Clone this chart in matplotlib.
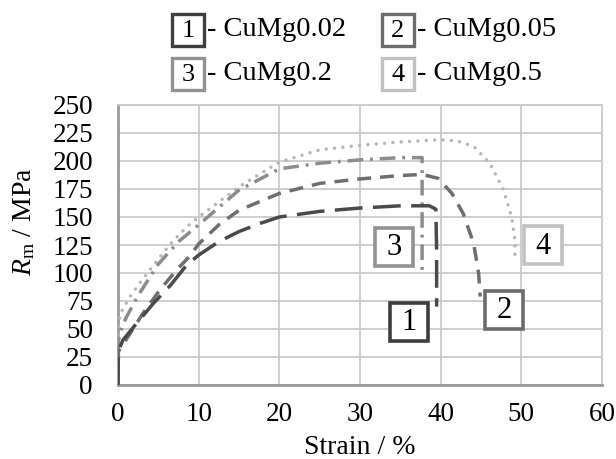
import matplotlib
matplotlib.use('Agg')
import matplotlib.pyplot as plt
from matplotlib.patches import Rectangle

plt.rcParams['font.family'] = ['Liberation Serif', 'DejaVu Serif']
plt.rcParams['mathtext.fontset'] = 'custom'
plt.rcParams['mathtext.rm'] = 'Liberation Serif'
plt.rcParams['mathtext.it'] = 'Liberation Serif:italic'

# curve data (strain in %, Rm in MPa)
strain_1 = [0, 0.05, 0.6, 2.3, 4.4, 6.5, 8.5, 10, 12.5, 15, 17.5, 20, 25, 30, 35, 38.6, 39.4, 39.5, 39.5]
stress_1 = [0, 30, 40, 55, 73, 89, 107, 116, 128, 137, 144, 150, 155, 158, 160, 160, 157, 120, 70]

strain_2 = [0, 0.05, 1.5, 3.1, 5.2, 7.3, 8.9, 10, 12.5, 15, 20, 25, 30, 35, 37.7, 39.7, 41.4, 42.8, 44.1, 44.7, 44.9]
stress_2 = [0, 30, 46, 64, 85, 103, 115, 126, 143, 156, 171, 180, 184, 187, 188, 184.5, 171, 153, 126, 100, 79]

strain_3 = [0, 0.05, 0.5, 1, 2.5, 5, 7.5, 10, 15, 20, 25, 30, 35, 37.7, 37.7]
stress_3 = [0, 40, 52, 60, 80, 108, 128, 143, 174, 193, 198, 201, 203, 203, 97]

strain_4 = [0, 0.02, 0.3, 1.5, 2.7, 4.4, 6.5, 8.5, 10, 15, 20, 25, 30, 35, 40, 42, 44.1, 46.1, 47.8, 48.8, 49.2, 49.2]
stress_4 = [0, 52, 64, 79, 91, 107, 126, 141, 150, 177, 199, 210, 214, 217, 219, 218, 213, 198, 174, 150, 130, 110]

series_numbers = ['1', '2', '3', '4']
series_names = ['CuMg0.02', 'CuMg0.05', 'CuMg0.2', 'CuMg0.5']

x_ticks = [0, 10, 20, 30, 40, 50, 60]
y_ticks = [0, 25, 50, 75, 100, 125, 150, 175, 200, 225, 250]

# styles
line_colors = ['#4a4a4a', '#6e6e6e', '#8c8c8c', '#b6b6b6']
box_colors = ['#3e3e3e', '#6c6c6c', '#929292', '#c2c2c2']
line_dashes = [(8, 3), (4, 2.6), (4.5, 2, 0.8, 2), (0.01, 2.4)]
line_caps = ['butt', 'butt', 'butt', 'round']

W, H = 616, 459
fig = plt.figure(figsize=(W / 100, H / 100), dpi=100)
ax = fig.add_axes([118 / W, 1 - 385 / H, (602 - 118) / W, (385 - 105) / H])

curves = [(strain_1, stress_1), (strain_2, stress_2), (strain_3, stress_3), (strain_4, stress_4)]
for i, (sx, sy) in enumerate(curves):
    ln, = ax.plot(sx, sy, color=line_colors[i], lw=2.5, zorder=3 + (3 - i) * 0.1)
    ln.set_dashes(line_dashes[i])
    ln.set_dash_capstyle(line_caps[i])

ax.set_xlim(0, 60)
ax.set_ylim(0, 250)
ax.set_xticks(x_ticks)
ax.set_yticks(y_ticks)
ax.grid(True, color='#cacaca', lw=1.3)
ax.set_axisbelow(True)
for s in ['top', 'right']:
    ax.spines[s].set_color('#cacaca')
    ax.spines[s].set_linewidth(1.3)
for s in ['left', 'bottom']:
    ax.spines[s].set_color('#9a9a9a')
    ax.spines[s].set_linewidth(2.0)
ax.tick_params(axis='both', length=0, labelsize=19.5)
ax.tick_params(axis='x', pad=12)
ax.tick_params(axis='y', pad=18)

fig.text(360 / W, 1 - 447 / H, 'Strain / %', fontsize=20, ha='center', va='center')
fig.text(24 / W, 1 - 222 / H, r'$R_\mathrm{m}$ / MPa', fontsize=20, rotation=90,
         ha='center', va='center')


def number_box(cx, cy, size, num, color, fontsize, lw):
    # cx, cy in figure fraction
    w = size / W
    h = size / H
    fig.add_artist(Rectangle((cx - w / 2, cy - h / 2), w, h, transform=fig.transFigure,
                             facecolor='white', edgecolor=color, lw=lw, zorder=10))
    fig.text(cx, cy - 1 / H, num, fontsize=fontsize, ha='center', va='center', zorder=11)


# legend across the top
legend_pos = [(188, 30), (398, 30), (188, 74), (398, 74)]
for i, (px, py) in enumerate(legend_pos):
    number_box(px / W, 1 - py / H, 32, series_numbers[i], box_colors[i], 19, 2.4)
    fig.text((px + 19) / W, 1 - py / H, '- ' + series_names[i], fontsize=20.5,
             ha='left', va='center')

# number tags next to curves (strain, stress)
tag_pos = [(36.1, 56.5), (47.9, 67), (34.2, 123.5), (52.7, 125)]
for i, (tx, ty) in enumerate(tag_pos):
    dx, dy = ax.transData.transform((tx, ty))
    fx, fy = fig.transFigure.inverted().transform((dx, dy))
    number_box(fx, fy, 38, series_numbers[i], box_colors[i], 22, 2.6)

fig.savefig('out.png', dpi=100)
